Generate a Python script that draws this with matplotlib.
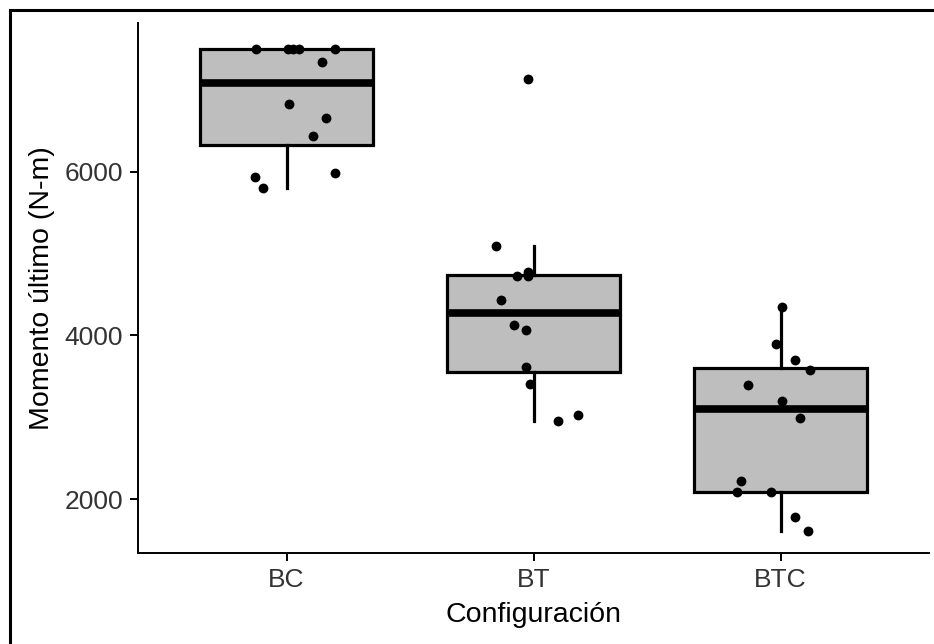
import numpy as np
import matplotlib
matplotlib.use("Agg")
import matplotlib.pyplot as plt
from matplotlib.lines import Line2D

plt.rcParams['font.family'] = ['Liberation Sans', 'DejaVu Sans']

# data (N-m), one list per configuration
categorias = ['BC', 'BT', 'BTC']
bc = [7500, 7500, 7500, 7500, 7500, 7344, 6827, 6652, 6436, 5939, 5805, 5980]
bt = [7132, 5092, 4778, 4730, 4730, 4432, 4123, 4066, 3610, 3400, 3024, 2958]
btc = [4351, 3891, 3696, 3577, 3394, 3202, 2995, 2221, 2087, 2087, 1785, 1614]

# horizontal jitter of each point (in category units), as seen in the picture
jit_bc = [-0.122, 0.008, 0.025, 0.051, 0.195, 0.144, 0.009, 0.160, 0.107,
          -0.129, -0.097, 0.196]
jit_bt = [-0.021, -0.151, -0.021, -0.066, -0.021, -0.131, -0.080, -0.030,
          -0.030, -0.015, 0.179, 0.100]
jit_btc = [0.006, -0.019, 0.059, 0.120, -0.133, 0.006, 0.077, -0.160,
           -0.176, -0.039, 0.059, 0.113]

datos = [bc, bt, btc]
jitters = [jit_bc, jit_bt, jit_btc]

W, H = 934, 644
fig = plt.figure(figsize=(W/100, H/100), dpi=100)
ax = fig.add_axes([138.3/W, (H-553)/H, (928.7-138.3)/W, (553-23)/H])

pos = np.arange(1, len(categorias) + 1)
ax.boxplot(datos, positions=pos, widths=0.7, patch_artist=True,
           showfliers=False, whis=1.5,
           boxprops=dict(facecolor='#BEBEBE', edgecolor='black', linewidth=2.3),
           medianprops=dict(color='black', linewidth=5.5, solid_capstyle='butt'),
           whiskerprops=dict(color='black', linewidth=2.3),
           capprops=dict(linewidth=0), zorder=1)

for p, vals, jit in zip(pos, datos, jitters):
    ax.scatter(p + np.array(jit), vals, s=50, color='black',
               linewidths=0, zorder=3)

ax.set_xlim(0.4, 3.6)
ax.set_ylim(1341, 7817)
ax.set_xticks(pos)
ax.set_xticklabels(categorias)
ax.set_yticks([2000, 4000, 6000])

for s in ['top', 'right']:
    ax.spines[s].set_visible(False)
for s in ['left', 'bottom']:
    ax.spines[s].set_linewidth(1.4)
ax.tick_params(axis='both', labelsize=19, labelcolor='#333333',
               length=6, width=1.4, pad=5)

ax.set_xlabel('Configuración', fontsize=20.5, labelpad=7)
ax.set_ylabel('Momento último (N-m)', fontsize=20.5, labelpad=7)

# frame of the original screenshot (left and top edges)
fig.add_artist(Line2D([9.5/W, 9.5/W], [0, 1 - 10/H], color='black',
                      linewidth=2.2, transform=fig.transFigure))
fig.add_artist(Line2D([9.5/W, 1], [1 - 10/H, 1 - 10/H], color='black',
                      linewidth=2.2, transform=fig.transFigure))

fig.savefig('out.png', dpi=100)
